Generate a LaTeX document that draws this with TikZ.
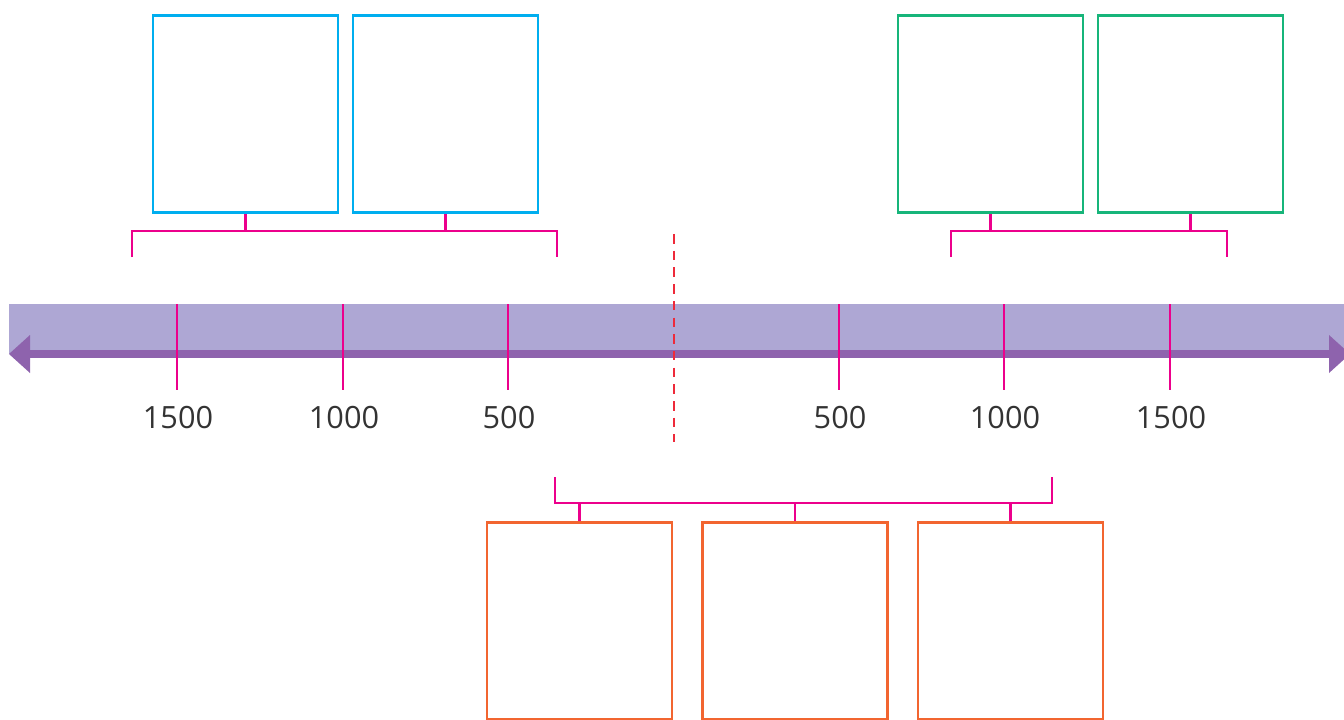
\documentclass[tikz,border=0pt]{standalone}
\usepackage{fontspec}
\setmainfont{Open Sans}
\begin{document}
\begin{tikzpicture}[x=0.75pt,y=-0.75pt,
  box/.style={draw,line width=2.1pt,minimum width=185*0.75pt,minimum height=197*0.75pt,inner sep=0pt,anchor=north west},
  bluebox/.style={box,draw=boxblue},
  greenbox/.style={box,draw=boxgreen},
  orangebox/.style={box,draw=boxorange},
  bracket/.style={draw=brmag,line width=2.1pt},
  tick/.style={draw=brmag,line width=2.1pt},
  yearlab/.style={text=labgray,font=\fontsize{23}{26}\selectfont,inner sep=0pt}]
\definecolor{boxblue}{HTML}{00AEEF}
\definecolor{boxgreen}{HTML}{17B57A}
\definecolor{boxorange}{HTML}{F26530}
\definecolor{brmag}{HTML}{EC008C}
\definecolor{bandlight}{HTML}{AEA7D4}
\definecolor{banddark}{HTML}{8E63AD}
\definecolor{dashred}{HTML}{EE2A3A}
\definecolor{labgray}{HTML}{333333}
\useasboundingbox (0,0) rectangle (1344,720);
% band
\fill[bandlight] (9,304) rectangle (1344,354);
\fill[banddark] (28,350) rectangle (1332,358);
\fill[banddark] (9,354) -- (30,335) -- (30,373) -- cycle;
\fill[banddark] (1350,354) -- (1329,335) -- (1329,373) -- cycle;
% ticks and labels
\foreach \x/\t [count=\i] in {177/1500,343/1000,508/500,839/500,1004/1000,1170/1500}{
  \coordinate (tt\i) at (\x,304);
  \coordinate (tb\i) at (\x,390);
  \draw[tick] (tt\i) -- (tb\i);
  \node[yearlab] (lab\i) at (\x+1,418) {\t};
}
% dashed centre line
\coordinate (dtop) at (674,234);
\coordinate (dbot) at (674,442);
\draw[dashred,line width=1.9pt,dash pattern=on 9.5*0.75pt off 7.2*0.75pt] (dtop) -- (dbot);
% boxes
\node[bluebox] (b1) at (151.5,14.5) {};
\node[bluebox] (b2) at (351.5,14.5) {};
\node[greenbox] (g1) at (896.5,14.5) {};
\node[greenbox] (g2) at (1096.5,14.5) {};
\node[orangebox] (o1) at (485.5,521) {};
\node[orangebox] (o2) at (701,521) {};
\node[orangebox] (o3) at (916.5,521) {};
% top-left bracket
\coordinate (tlA) at (132,257);
\coordinate (tlB) at (557,257);
\draw[bracket] (tlA) -- (132,231) -- (557,231) -- (tlB);
\draw[bracket] (b1.south) -- (b1.south |- 0,231);
\draw[bracket] (b2.south) -- (b2.south |- 0,231);
% top-right bracket
\coordinate (trA) at (951,257);
\coordinate (trB) at (1227,257);
\draw[bracket] (trA) -- (951,231) -- (1227,231) -- (trB);
\draw[bracket] (g1.south) -- (g1.south |- 0,231);
\draw[bracket] (g2.south) -- (g2.south |- 0,231);
% bottom bracket
\coordinate (bA) at (555,477);
\coordinate (bB) at (1052,477);
\draw[bracket] (bA) -- (555,503) -- (1052,503) -- (bB);
\draw[bracket] (o1.north) -- (o1.north |- 0,503);
\draw[bracket] (o2.north) -- (o2.north |- 0,503);
\draw[bracket] (o3.north) -- (o3.north |- 0,503);
\end{tikzpicture}
\end{document}
